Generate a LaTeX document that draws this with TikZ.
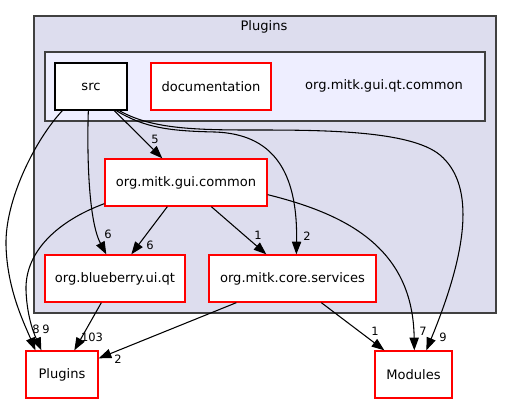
\documentclass[tikz,border=0pt]{standalone}
\usepackage{fontspec}
\setmainfont{DejaVu Sans}
\usetikzlibrary{arrows.meta,calc}
\definecolor{outerfill}{HTML}{DDDDEE}
\definecolor{innerfill}{HTML}{EEEEFF}
\definecolor{clusterline}{HTML}{404040}
\begin{document}
\begin{tikzpicture}[x=0.75pt,y=-0.75pt,
  box/.style={draw=red,fill=white,line width=1pt,minimum height=35.25pt,inner sep=0pt,font=\fontsize{9.8}{11}\selectfont},
  srcbox/.style={box,draw=black},
  edge/.style={line width=0.8pt,-{Triangle[length=9.5pt,width=7pt]}},
  lbl/.style={inner sep=0pt,font=\fontsize{8.6}{10}\selectfont}]
\useasboundingbox (0,0) rectangle (512,404);
\node[draw=clusterline,fill=outerfill,line width=1pt,minimum width=346.5pt,minimum height=222.75pt,inner sep=0pt] (outer) at (265,164.5) {};
\node[font=\fontsize{9.8}{11}\selectfont] (outerlbl) at (264,27) {Plugins};
\node[draw=clusterline,fill=innerfill,line width=1pt,minimum width=330pt,minimum height=51.75pt,inner sep=0pt] (inner) at (265,86.5) {};
\node[font=\fontsize{9.8}{11}\selectfont] (innerlbl) at (384,86) {org.mitk.gui.qt.common};
\node[srcbox,minimum width=54pt] (src) at (91,86.5) {src};
\node[box,minimum width=90pt] (doc) at (211,86.5) {documentation};
\node[box,minimum width=121.5pt] (gui) at (186,182.5) {org.mitk.gui.common};
\node[box,minimum width=105pt] (blue) at (115,278.5) {org.blueberry.ui.qt};
\node[box,minimum width=125.25pt] (core) at (292.5,278.5) {org.mitk.core.services};
\node[box,minimum width=54pt] (plug) at (62,374.5) {Plugins};
\node[box,minimum width=57.75pt] (mod) at (413.5,374.5) {Modules};

% src edges
\draw[edge] ($(src.south west)+(60,0)$) -- ($(gui.north west)+(58,0)$);
\draw[edge] ($(src.south west)+(34,0)$) .. controls (87,150) and (88,220) .. ($(blue.north west)+(62,0)$);
\draw[edge] ($(src.south west)+(62,0)$) .. controls (145,128) and (170,131) .. (215,132) .. controls (272,134) and (298,170) .. ($(core.north west)+(88,0)$);
\draw[edge] ($(src.south west)+(65,0)$) .. controls (150,128) and (190,130) .. (250,130) .. controls (320,130) and (410,130) .. (440,155) .. controls (472,182) and (472,240) .. ($(mod.north west)+(52,0)$);
\draw[edge] ($(src.south west)+(8,0)$) .. controls (35,140) and (5,200) .. (6,245) .. controls (7,290) and (25,325) .. ($(plug.north west)+(10,0)$);
% gui edges
\draw[edge] ($(gui.south west)+(0,-3)$) .. controls (60,220) and (25,250) .. (26,290) .. controls (27,320) and (36,338) .. ($(plug.north west)+(16,0)$);
\draw[edge] ($(gui.south west)+(63,0)$) -- ($(blue.north west)+(87,0)$);
\draw[edge] ($(gui.south west)+(107,0)$) -- ($(core.north west)+(58,0)$);
\draw[edge] ($(gui.south east)+(0,-12)$) .. controls (350,215) and (413,250) .. ($(mod.north west)+(40,0)$);
% lower edges
\draw[edge] ($(blue.south west)+(57,0)$) -- ($(plug.north west)+(49,0)$);
\draw[edge] ($(core.south west)+(28,0)$) -- ($(plug.north east)+(0,8)$);
\draw[edge] ($(core.south west)+(113,0)$) -- ($(mod.north west)+(10,0)$);

% labels
\node[lbl] (l1) at (155,139) {5};
\node[lbl] (l2) at (108,234) {6};
\node[lbl] (l3) at (307,236) {2};
\node[lbl] (l4) at (443,337) {9};
\node[lbl] (l5) at (36,329) {8};
\node[lbl] (l6) at (46,329) {9};
\node[lbl] (l7) at (150,245) {6};
\node[lbl] (l8) at (258,235) {1};
\node[lbl] (l9) at (423,331) {7};
\node[lbl] (l10) at (92,337) {103};
\node[lbl] (l11) at (118,359) {2};
\node[lbl] (l12) at (375,331) {1};
\end{tikzpicture}
\end{document}
